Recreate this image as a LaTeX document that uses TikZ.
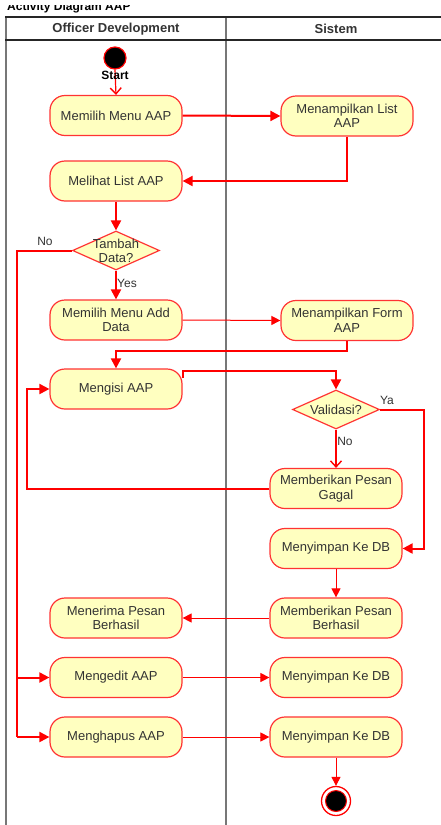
\documentclass[tikz,border=0pt]{standalone}
\usepackage{fontspec}
\setmainfont{Liberation Sans}
\usetikzlibrary{arrows.meta,shapes.geometric,calc}
\definecolor{flowred}{HTML}{FF0000}
\definecolor{boxline}{HTML}{FF3333}
\definecolor{boxfill}{HTML}{FFFFC0}
\definecolor{inktext}{HTML}{333333}
\definecolor{lanegray}{HTML}{777777}
\begin{document}
\begin{tikzpicture}[x=1pt,y=-1pt,
  action/.style={draw=boxline,fill=boxfill,line width=1.2pt,rounded corners=15pt,
    minimum width=132pt,minimum height=40pt,inner sep=0pt,align=center,
    text=inktext,font=\fontsize{13}{14.5}\selectfont},
  decision/.style={draw=boxline,fill=boxfill,line width=1.2pt,diamond,
    minimum width=87pt,minimum height=39pt,inner sep=0pt},
  dtext/.style={align=center,text=inktext,font=\fontsize{13}{14}\selectfont},
  guard/.style={text=inktext,font=\fontsize{12}{13}\selectfont,inner sep=0pt},
  thickflow/.style={draw=flowred,line width=2pt,-{Triangle[length=10pt,width=10pt]}},
  thinflow/.style={draw=flowred,line width=1pt,-{Triangle[length=9pt,width=9pt]}},
  openflow/.style={draw=flowred,line width=1.2pt,-{Straight Barb[length=6pt,width=11pt,line width=1.4pt]}},
  thickline/.style={draw=flowred,line width=2pt},
  lane/.style={draw=lanegray,line width=2pt},
  header/.style={text=inktext,font=\bfseries\fontsize{13}{15}\selectfont}
]
\useasboundingbox (0,0) rectangle (440,825);
\fill[white] (0,0) rectangle (440,825);

% title, partly cut at the top edge
\begin{scope}
  \clip (0,5.5) rectangle (440,16);
  \node[anchor=base west,inner sep=0pt,font=\bfseries\fontsize{12}{14}\selectfont] (title) at (7,10.5) {Activity Diagram AAP};
\end{scope}

% swimlanes
\draw[lane] (6,17) -- (6,826);
\draw[lane] (226,17) -- (226,826);
\draw[draw=black!85,line width=1.2pt] (5,17) -- (441,17);
\draw[draw=black!85,line width=1.2pt] (5,40) -- (441,40);
\node[header] (laneA) at (116,29) {Officer Development};
\node[header] (laneB) at (336,29) {Sistem};

% initial node
\node[circle,fill=black,draw=flowred,line width=1.2pt,minimum size=22pt,inner sep=0pt] (start) at (115,58) {};

% actions: Officer Development
\node[action] (pilihmenu) at (116,115.5) {Memilih Menu AAP};
\node[action] (lihatlist) at (116,181) {Melihat List AAP};
\node[decision] (tambah) at (116,250.5) {};
\node[dtext] (tambahtxt) at (tambah) {Tambah\\Data?};
\node[action] (pilihadd) at (116,320) {Memilih Menu Add\\Data};
\node[action] (mengisi) at (116,389) {Mengisi AAP};
\node[action] (terima) at (116,618) {Menerima Pesan\\Berhasil};
\node[action] (edit) at (116,677.5) {Mengedit AAP};
\node[action] (hapus) at (116,737) {Menghapus AAP};

% actions: Sistem
\node[action] (tampillist) at (347,116) {Menampilkan List\\AAP};
\node[action] (tampilform) at (347,320.5) {Menampilkan Form\\AAP};
\node[decision] (valid) at (336,409.5) {};
\node[dtext] (validtxt) at (valid) {Validasi?};
\node[action] (gagal) at (336,488.5) {Memberikan Pesan\\Gagal};
\node[action] (simpan) at (336,548.5) {Menyimpan Ke DB};
\node[action] (berhasil) at (336,618) {Memberikan Pesan\\Berhasil};
\node[action] (simpanedit) at (336,677.5) {Menyimpan Ke DB};
\node[action] (simpanhapus) at (336,737) {Menyimpan Ke DB};

% final node
\node[circle,draw=flowred,line width=1.3pt,fill=white,minimum size=29pt,inner sep=0pt] (finish) at (336,801) {};
\node[circle,fill=black,draw=flowred,line width=1pt,minimum size=21pt,inner sep=0pt] (finishdot) at (finish) {};

% connectors
\draw[openflow] (start.south) -- (pilihmenu.north);
\node[font=\bfseries\fontsize{12}{13}\selectfont,inner sep=0pt] (startlbl) at (115,75.5) {Start};

\draw[thickflow] (pilihmenu.east) -- (tampillist.west);
\draw[thickflow] (tampillist.south) |- (lihatlist.east);
\draw[thickflow] (lihatlist.south) -- (tambah.north);
\draw[thickflow] (tambah.south) -- (pilihadd.north);
\node[guard] (yeslbl) at (127,283) {Yes};

\coordinate (nobend) at (17,250.5);
\coordinate (editjoin) at (17,677.5);
\coordinate (hapusjoin) at (17,737);
\draw[thickline] (tambah.west) -- (nobend) -- (hapusjoin);
\node[guard] (nolbl) at (45,241) {No};
\draw[thickflow] (editjoin) -- (edit.west);
\draw[thickflow] (hapusjoin) -- (hapus.west);

\draw[thinflow] (pilihadd.east) -- (tampilform.west);
\draw[thickflow] (tampilform.south) -- ++(0,10) -| (mengisi.north);
\draw[thickflow] ([yshift=11pt]mengisi.east) -- ++(0,-7) -| (valid.north);

\draw[thickflow] (valid.east) -- ++(44,0) |- (simpan.east);
\node[guard] (yalbl) at (387,400) {Ya};
\draw[openflow] (valid.south) -- (gagal.north);
\node[guard] (novlbl) at (345,441) {No};

\draw[thickflow] (gagal.west) -- ++(-242,0) |- (mengisi.west);

\draw[thinflow] (simpan.south) -- (berhasil.north);
\draw[thinflow] (berhasil.west) -- (terima.east);
\draw[thinflow] (edit.east) -- (simpanedit.west);
\draw[thinflow] (hapus.east) -- (simpanhapus.west);
\draw[thinflow] (simpanhapus.south) -- (finish.north);
\end{tikzpicture}
\end{document}
